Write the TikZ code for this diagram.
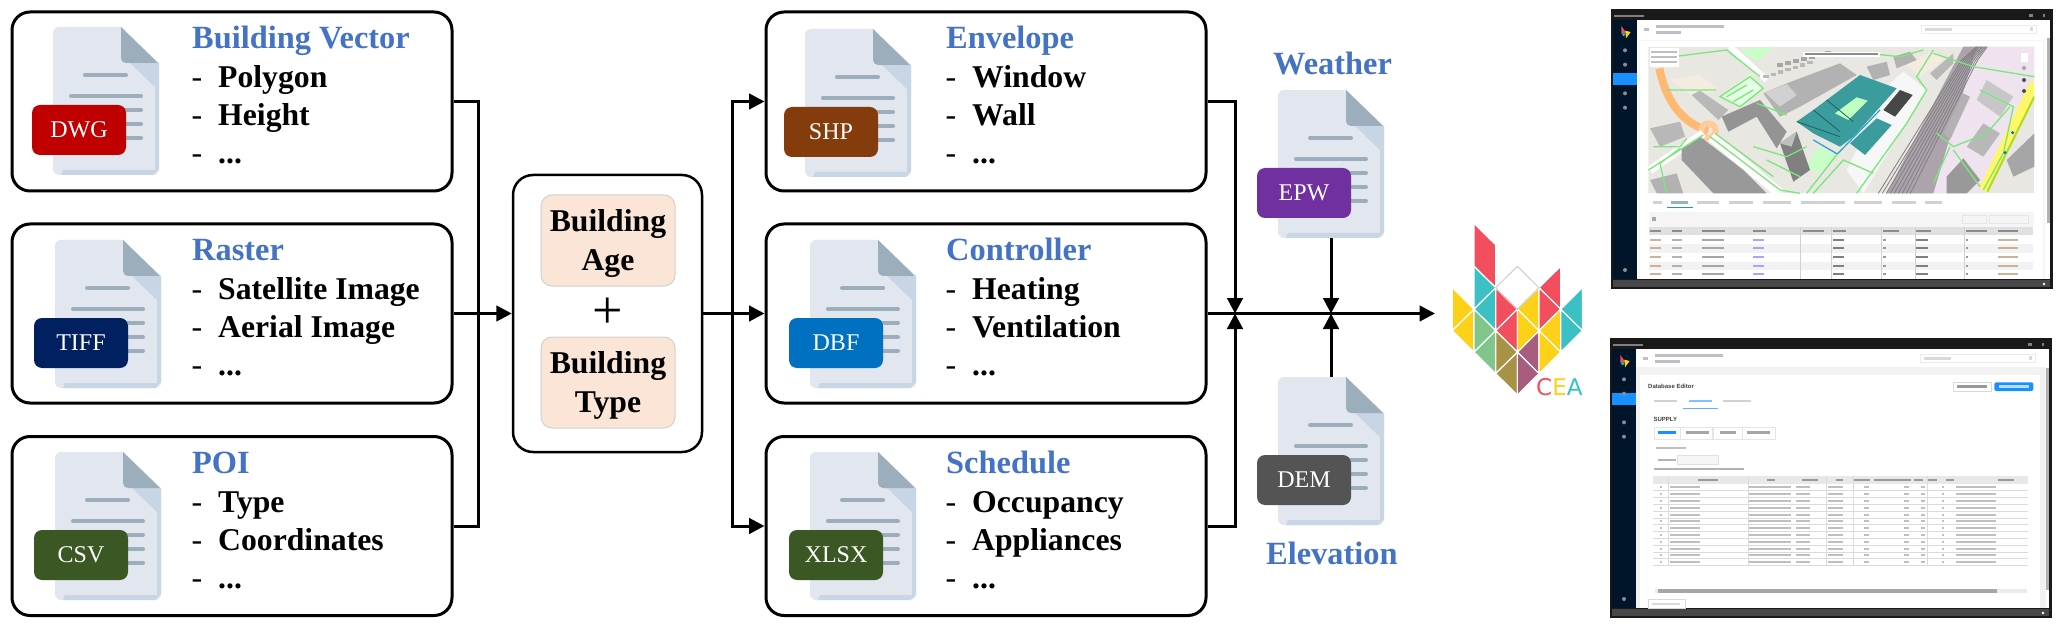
\documentclass[tikz,border=0pt]{standalone}
\usepackage{fontspec}
\setmainfont{Liberation Serif}
\newfontfamily\uifont{Liberation Sans}
\newfontfamily\logofont{DejaVu Sans}
\usetikzlibrary{arrows.meta}

\definecolor{headblue}{HTML}{4472C4}
\definecolor{tagred}{HTML}{C00000}
\definecolor{tagnavy}{HTML}{002060}
\definecolor{taggreen}{HTML}{3A5724}
\definecolor{tagbrown}{HTML}{843C0C}
\definecolor{tagblue}{HTML}{0070C0}
\definecolor{tagpurple}{HTML}{7030A0}
\definecolor{taggrey}{HTML}{545454}
\definecolor{docpage}{HTML}{E1E6EF}
\definecolor{docshade}{HTML}{C8D5E4}
\definecolor{docfold}{HTML}{9CADBC}
\definecolor{peach}{HTML}{FBE5D6}
\definecolor{logored}{HTML}{F24E5E}
\definecolor{logoteal}{HTML}{3BC1C3}
\definecolor{logoyellow}{HTML}{FDD117}
\definecolor{logogreen}{HTML}{80C58C}
\definecolor{logobrown}{HTML}{A89245}
\definecolor{logopurple}{HTML}{A85D7F}
\definecolor{uinav}{HTML}{001529}
\definecolor{uiblue}{HTML}{1890FF}
\definecolor{uibar}{HTML}{BCC0C4}
\definecolor{mapnet}{HTML}{78E878}
\definecolor{mapteal}{HTML}{3A9C9C}
\definecolor{mapground}{HTML}{E9E7E2}
\definecolor{maprail}{HTML}{EFE3EF}

\tikzset{
  inputbox/.style={draw, line width=3pt, rounded corners=18pt, fill=white,
    minimum width=440pt, minimum height=179pt, inner sep=0pt},
  contextbox/.style={draw, line width=2.5pt, rounded corners=20pt, fill=white,
    minimum width=189pt, minimum height=277pt, inner sep=0pt},
  peachbox/.style={draw=black!18, line width=1pt, rounded corners=11pt, fill=peach,
    minimum width=134pt, minimum height=91pt, inner sep=0pt},
  peachtext/.style={inner sep=0pt, align=center, yshift=-3pt,
    font=\fontsize{31.7}{39.5}\selectfont\bfseries},
  headtext/.style={anchor=base west, inner sep=0pt, text=headblue,
    font=\fontsize{32.4}{38}\selectfont\bfseries},
  itemtext/.style={anchor=base west, inner sep=0pt,
    font=\fontsize{31.7}{38}\selectfont\bfseries},
  docbody/.style={minimum width=106pt, minimum height=148pt, inner sep=0pt},
  doctag/.style={rounded corners=8pt, minimum width=94pt, minimum height=50pt,
    inner sep=0pt, text=white, font=\fontsize{24}{28}\selectfont},
  docline/.style={docfold, line width=4pt, line cap=round},
  flow/.style={line width=3pt},
  logoedge/.style={draw=white, line width=1.2pt},
  uitext/.style={anchor=west, inner sep=0pt, text=black!75,
    font=\uifont\bfseries\fontsize{6}{7}\selectfont},
  net/.style={mapnet, line width=1.3pt}
}

\newcommand{\itemdots}{...}

% name, left, top, tag text, tag colour
\newcommand{\docicon}[5]{
  \node [docbody] (#1) at (#2+53,#3+74) {};
  \begin{scope}[shift={(#2,#3)}]
    \fill [docpage] (68,0) -- (106,36) [rounded corners=6pt] -- (106,148) -- (0,148) -- (0,0) [sharp corners] -- cycle;
    \fill [docshade] (77,36) -- (102,60) -- (102,143) -- (10,143) -- (8,148) -- (100,148) -- (106,142) -- (106,36) -- cycle;
    \fill [docfold] (68,0) -- (105,36) -- (77,36) [rounded corners=5pt] -- (68,36) [sharp corners] -- (68,0) -- cycle;
    \draw [docline] (32,48) -- (73,48);
    \foreach \y in {69,83,97,111}
      \draw [docline] (18,\y) -- (88,\y);
    \node [doctag, fill=#5] (#1-tag) at (26,103) {#4};
  \end{scope}
}

% dark frame, title bar, side menu of the app window, active menu line at #1
\newcommand{\appshell}[1]{
  \fill [black!90] (33,27) rectangle (1358,866);
  \fill [black!72] (40,840) rectangle (1350,860);
  \fill [white] (110,60) rectangle (1350,838);
  \fill [uinav] (40,60) rectangle (110,838);
  \fill [uiblue] (40,#1) rectangle (110,#1+36);
  \fill [black!50] (42,44) rectangle (132,52);
  \fill [black!50] (1288,42) rectangle (1298,50);
  \fill [black!50] (1328,42) rectangle (1336,50);
  \fill [logored] (64,78) -- (78,98) -- (64,100) -- cycle;
  \fill [logoteal] (64,100) -- (76,100) -- (72,110) -- cycle;
  \fill [logoyellow] (76,92) -- (92,96) -- (78,115) -- cycle;
  \foreach \y in {151,194,280,323,810}
    \fill [black!45] (75,\y) circle (6);
  \fill [white] (1332,852) circle (4);
  % header of the page
  \fill [uibar] (168,75) rectangle (372,83);
  \fill [uibar] (168,94) rectangle (242,102);
  \fill [uibar] (132,84) rectangle (148,94);
  \draw [black!8] (965,76) rectangle (1310,100);
  \fill [black!15] (975,85) rectangle (1055,92);
  \fill [black!15] (1290,82) rectangle (1300,92);
}

\begin{document}
\begin{tikzpicture}[x=1pt, y=-1pt, >={Triangle[length=15.5pt,width=15.5pt]}]
\useasboundingbox (0,0) rectangle (2063,628);

% boxes on the two columns
\foreach \m/\bx/\by/\dx/\dy/\title/\first/\second/\tag/\col in {
    vector/232/101.5/53/27/Building Vector/Polygon/Height/DWG/tagred,
    raster/232/313.5/55/240/Raster/Satellite Image/Aerial Image/TIFF/tagnavy,
    poi/232/526/55/452/POI/Type/Coordinates/CSV/taggreen,
    envelope/986/101.5/805/29/Envelope/Window/Wall/SHP/tagbrown,
    controller/986/313.5/810/240/Controller/Heating/Ventilation/DBF/tagblue,
    schedule/986/526/810/452/Schedule/Occupancy/Appliances/XLSX/taggreen} {
  \node [inputbox] (\m) at (\bx,\by) {};
  \docicon{\m-doc}{\dx}{\dy}{\tag}{\col}
  \node [headtext] (\m-title) at (\bx-40,\by-53) {\title};
  \foreach \l/\i/\t in {1/-14/\first, 2/24/\second, 3/62/\itemdots} {
    \node [anchor=base west, inner sep=0pt, font=\fontsize{32}{38}\selectfont] (\m-mark-\l) at (\bx-40.5,\by+\i) {-};
    \node [itemtext] (\m-item-\l) at (\bx-14,\by+\i) {\t};
  }
}

% middle box
\node [contextbox] (context) at (607.5,313.5) {};
\node [peachbox] (age) at (608,240.5) {};
\node [peachbox] (type) at (608,382.5) {};
\node [peachtext] (age-text) at (age) {Building\\Age};
\node [peachtext] (type-text) at (type) {Building\\Type};
\node [inner sep=0pt, font=\fontsize{54}{58}\selectfont] (plus) at (608,313) {+};

% weather and elevation files
\node [headtext] (weather-title) at (1273,75) {Weather};
\docicon{weather-doc}{1278}{90}{EPW}{tagpurple}
\docicon{elevation-doc}{1278}{377}{DEM}{taggrey}
\node [headtext] (elevation-title) at (1266,564) {Elevation};

\coordinate (merge) at (478,313.5);
\coordinate (split) at (732,313.5);
\coordinate (join-a) at (1235,313.5);
\coordinate (join-b) at (1331,313.5);
\coordinate (out) at (1435,313.5);

\draw [flow] (vector.east) -| (merge);
\draw [flow] (poi.east) -| (merge);
\draw [flow, ->] (raster.east) -- (context.west);
\draw [flow, ->] (context.east) -- (controller.west);
\draw [flow, ->] (split) |- (envelope.west);
\draw [flow, ->] (split) |- (schedule.west);
\draw [flow, ->] (envelope.east) -| (join-a);
\draw [flow, ->] (schedule.east) -| (join-a);
\draw [flow, ->] (weather-doc.south) -- (join-b);
\draw [flow, ->] (elevation-doc.north) -- (join-b);
\draw [flow, ->] (controller.east) -- (out);

% logo
\begin{scope}[shift={(1420,220)}, scale=1/3]
  \foreach \p in {0,...,6}
    \foreach \q in {0,...,8}
      \coordinate (v\p\q) at ({97+65*\p},{10+64.4*\q});
  \filldraw [fill=logored, logoedge] (v10) -- (v21) -- (v23) -- (v12) -- cycle;
  \foreach \tone/\a/\b/\d in {
      logoteal/v12/v23/v14, logoteal/v23/v14/v25,
      logoyellow/v03/v14/v05, logoyellow/v14/v05/v16,
      logogreen/v14/v25/v16, logogreen/v25/v16/v27,
      logored/v23/v34/v25, logored/v34/v25/v36,
      logobrown/v25/v36/v27, logobrown/v36/v27/v38,
      logopurple/v45/v36/v47, logopurple/v36/v47/v38,
      logoyellow/v43/v34/v45, logoyellow/v34/v45/v36,
      logored/v52/v43/v54, logored/v43/v54/v45,
      logoyellow/v54/v45/v56, logoyellow/v45/v56/v47,
      logoteal/v63/v54/v65, logoteal/v54/v65/v56}
    \filldraw [fill=\tone, logoedge] (\a) -- (\b) -- (\d) -- cycle;
  \draw [black!20, line width=1pt] (v32) -- (v43) -- (v34) -- (v23) -- cycle;
\end{scope}
\node [anchor=base west, inner sep=0pt, font=\logofont\fontsize{23}{26}\selectfont] (cea) at (1536,395)
  {\textcolor{logored}{C}\textcolor{logoyellow}{E}\textcolor{logoteal}{A}};

% window with the map
\begin{scope}[shift={(1600,0)}, scale=1/3]
  \appshell{220}
  \fill [black!4] (118,120) rectangle (1335,838);
  \fill [white] (120,122) rectangle (1330,838);
  \fill [black!30] (1340,115) rectangle (1350,670);
  \begin{scope}
    \clip (145,140) rectangle (1303,580);
    \fill [mapground] (145,140) rectangle (1303,580);
    \fill [maprail] (880,580) -- (1130,140) -- (1303,140) -- (1303,230) -- (1150,580) -- cycle;
    \fill [black!28!maprail] (860,580) -- (1090,140) -- (1130,140) -- (1000,580) -- cycle;
    \fill [green!10!white] (360,290) -- (450,225) -- (490,265) -- (420,320) -- cycle;
    \fill [green!22!white] (620,500) -- (655,440) -- (715,470) -- (650,520) -- cycle;
    \fill [green!22!white] (420,150) -- (520,140) -- (470,185) -- cycle;
    \fill [brown!16!white] (210,240) -- (300,225) -- (360,270) -- (280,290) -- cycle;
    \fill [brown!16!white] (920,195) -- (1000,150) -- (1030,180) -- (960,230) -- cycle;
    \fill [black!3] (870,250) -- (910,215) -- (980,270) -- (880,430) -- (790,580) -- (740,510) -- cycle;
    % rails
    \foreach \i in {0,12,...,96}
      \draw [black!50, line width=.8pt] (835+\i,580) -- (1085+\i/2,180) -- (1130+\i/3,140);
    % roads
    \draw [white, line width=6pt] (390,140) -- (500,240);
    \draw [orange!55!white, line width=8pt] (178,205) .. controls (200,310) and (250,370) .. (325,392);
    \draw [orange!40!white, line width=6pt] (325,392) circle (22);
    \draw [white, line width=10pt] (335,410) -- (540,580);
    \draw [white, line width=8pt] (150,510) -- (310,400);
    \draw [yellow!60!white, line width=9pt] (1150,570) -- (1303,250);
    \draw [yellow!70!green, line width=2pt] (1162,575) -- (1303,290);
    % grey buildings
    \foreach \i in {0,...,6} {
      \fill [black!35] (530+\i*24,190-\i*6) rectangle ++(18,12);
      \fill [black!28] (490+\i*22,225-\i*7) rectangle ++(16,10);
    }
    \fill [black!28] (275,285) -- (300,272) -- (385,330) -- (355,360) -- cycle;
    \fill [black!42] (365,350) -- (480,300) -- (560,395) -- (530,445) -- (470,350) -- (385,395) -- cycle;
    \fill [black!30] (490,280) -- (560,250) -- (720,190) -- (770,225) -- (600,320) -- (540,350) -- cycle;
    \fill [black!18] (495,278) -- (560,252) -- (590,285) -- (540,320) -- cycle;
    \fill [black!40] (245,445) -- (300,410) -- (430,510) -- (500,580) -- (340,580) -- (245,480) -- cycle;
    \fill [black!28] (150,385) -- (240,365) -- (255,410) -- (180,440) -- cycle;
    \fill [black!30] (800,200) -- (860,185) -- (870,225) -- (820,240) -- cycle;
    \fill [black!28] (990,220) -- (1060,160) -- (1060,190) -- (1010,240) -- cycle;
    \fill [black!30] (1030,400) -- (1090,280) -- (1110,290) -- (1050,420) -- cycle;
    \fill [black!40] (1040,530) -- (1090,475) -- (1140,540) -- (1100,580) -- (1040,580) -- cycle;
    \fill [black!28] (1100,440) -- (1150,370) -- (1200,400) -- (1150,470) -- cycle;
    \fill [black!35] (1220,480) -- (1303,400) -- (1303,500) -- (1240,530) -- cycle;
    \fill [black!22] (1160,240) -- (1240,290) -- (1200,350) -- (1130,300) -- cycle;
    \fill [black!30] (880,170) -- (930,155) -- (950,180) -- (890,205) -- cycle;
    \fill [black!30] (150,540) -- (230,520) -- (250,580) -- (170,580) -- cycle;
    \fill [black!50] (540,430) -- (590,395) -- (630,510) -- (580,545) -- cycle;
    \fill [black!25] (590,395) -- (540,430) -- (575,440) -- cycle;
    % selected buildings
    \fill [mapteal] (590,365) -- (640,330) -- (780,225) -- (890,265) -- (760,410) -- (720,440) -- (640,400) -- cycle;
    \fill [green!25!white] (705,340) -- (770,292) -- (803,302) -- (745,360) -- cycle;
    \draw [mapteal!60!black, line width=.8pt] (640,330) -- (720,395) (680,300) -- (760,365) (590,365) -- (720,410);
    \fill [mapteal] (750,430) -- (830,355) -- (875,375) -- (795,465) -- cycle;
    \fill [black!72] (850,330) -- (900,270) -- (938,285) -- (885,350) -- cycle;
    \draw [cyan!70!teal, line width=1.2pt] (640,420) -- (712,462) -- (840,330);
    % network of paths
    \draw [net] (330,410) -- (540,570) -- (600,580) (345,400) -- (520,530);
    \draw [net] (145,510) -- (310,405) (240,445) -- (180,490) -- (200,580);
    \draw [net] (160,440) -- (240,440) -- (260,415);
    \draw [net] (360,290) -- (450,230) -- (490,265) -- (420,320) -- cycle;
    \draw [net] (380,290) -- (440,255) (400,305) -- (460,270);
    \draw [net] (200,270) -- (350,270) (470,310) -- (560,345);
    \draw [net] (620,580) -- (712,462) (640,580) -- (730,480) -- (820,520);
    \draw [net] (770,580) -- (920,370) -- (980,270) -- (950,230) -- (1000,150);
    \draw [net] (1010,400) -- (1060,440) -- (1160,400) -- (1230,320);
    \draw [net] (1050,440) -- (1000,550) (1060,450) -- (1140,560);
    \draw [net] (1000,160) -- (1120,200) -- (1303,230);
    \draw [net] (1140,270) -- (1240,320) -- (1210,460) -- (1150,570);
    \draw [net] (800,160) -- (900,170) -- (970,150);
    \draw [net] (220,170) -- (380,150) -- (480,230);
    \draw [net] (460,440) -- (560,470) -- (620,440) (500,480) -- (600,530);
    \fill [white] (150,145) rectangle (238,200);
    \fill [white] (610,155) rectangle (840,172);
    \fill [white] (1262,160) rectangle (1284,185);
    \foreach \y in {155,171,187}
      \fill [uibar] (152,\y-3) rectangle (232,\y+3);
    \fill [black!45] (615,160) rectangle (835,166);
    \fill [black!70] (1272,240) circle (6);
    \fill [black!70] (1272,273) circle (6);
    \fill [black!35] (1272,204) circle (6);
    \fill [blue!60!cyan] (1238,398) circle (5);
    \fill [blue!60!cyan] (1215,458) circle (5);
  \end{scope}
  % tabs
  \foreach \x/\w in {160/25,292/65,388/70,488/85,602/132,762/84,875/72,975/52}
    \fill [black!18] (\x,604) rectangle ++(\w,7);
  \fill [cyan!45!black!50] (213,604) rectangle ++(50,7);
  \fill [uiblue] (200,621) rectangle (278,624);
  % table
  \fill [black!4] (147,637) rectangle (1303,680);
  \draw [black!10] (1088,645) rectangle ++(72,26);
  \draw [black!10] (1168,645) rectangle ++(118,26);
  \fill [black!35] (155,650) rectangle ++(14,14);
  \fill [black!12] (147,682) rectangle (1300,706);
  \fill [black!5] (147,733) rectangle (1300,758);
  \fill [black!5] (147,785) rectangle (1300,810);
  \foreach \x/\w in {150/32,217/28,306/68,458/40,608/64,698/40,848/50,948/44,1097/64,1195/60}
    \fill [black!45] (\x,689) rectangle ++(\w,7);
  \foreach \y in {720,745,772,797,822}
    \foreach \x/\w/\tone in {150/32/orange!50!black!40,217/28/black!30,306/65/black!35,458/35/blue!35,698/35/black!50,850/8/black!40,948/35/black!50,1097/8/black!40,1195/60/orange!50!black!40}
      \fill [\tone] (\x,\y-3) rectangle ++(\w,6);
  \foreach \x in {602,695,845,945,1092}
    \draw [black!18] (\x,682) -- (\x,838);
\end{scope}

% window with the database editor
\begin{scope}[shift={(1599,329)}, scale=1/3]
  \appshell{193}
  \fill [black!5] (110,115) rectangle (1340,838);
  \fill [white] (123,138) rectangle (1323,838);
  \fill [black!30] (1340,116) rectangle (1350,783);
  \node [uitext] (editor-title) at (147,173) {Database Editor};
  \draw [black!15, fill=white] (1063,160) rectangle (1178,186);
  \fill [black!40] (1075,169) rectangle ++(90,7);
  \fill [uiblue, rounded corners=2pt] (1186,160) rectangle (1303,186);
  \fill [white!70!uiblue] (1200,169) rectangle ++(90,7);
  \foreach \x/\w in {165/70,372/83}
    \fill [black!18] (\x,212) rectangle ++(\w,7);
  \fill [uiblue!55!white] (270,212) rectangle ++(68,7);
  \fill [uiblue!70!white] (253,236) rectangle (356,238);
  \node [uitext] (editor-group) at (163,271) {SUPPLY};
  \foreach \x/\w in {165/78,245/95,342/87,430/98}
    \draw [black!10] (\x,295) rectangle ++(\w,35);
  \fill [uiblue] (178,307) rectangle ++(52,7);
  \foreach \x/\w in {262/68,362/50,444/70}
    \fill [black!35] (\x,307) rectangle ++(\w,7);
  \fill [black!25] (172,355) rectangle ++(88,6);
  \fill [black!30] (178,389) rectangle ++(52,6);
  \draw [black!12, fill=black!4] (235,380) rectangle (358,405);
  \fill [black!30] (165,417) rectangle ++(270,6);
  \fill [black!9] (163,441) rectangle (1288,466);
  \foreach \x/\w in {298/60,505/22,608/48,712/20,766/46,825/110,945/26,987/28,1040/26,1198/48}
    \fill [black!40] (\x,450) rectangle ++(\w,7);
  \foreach \y in {475,495,516,536,557,577,598,618,638,659,678,699} {
    \draw [black!14] (163,\y+10) -- (1288,\y+10);
    \foreach \x/\w in {183/6,212/90,450/125,590/42,688/44,795/16,915/16,967/12,1028/6,1070/120}
      \fill [uibar] (\x,\y-3) rectangle ++(\w,6);
  }
  \foreach \x in {208,448,683,762,985}
    \draw [black!14] (\x,441) -- (\x,709);
  \fill [black!8] (168,781) rectangle (1285,792);
  \fill [black!35] (178,781) rectangle (1193,792);
  \draw [black!15] (147,812) rectangle (258,838);
  \fill [black!15] (158,822) rectangle ++(85,6);
\end{scope}
\end{tikzpicture}
\end{document}
